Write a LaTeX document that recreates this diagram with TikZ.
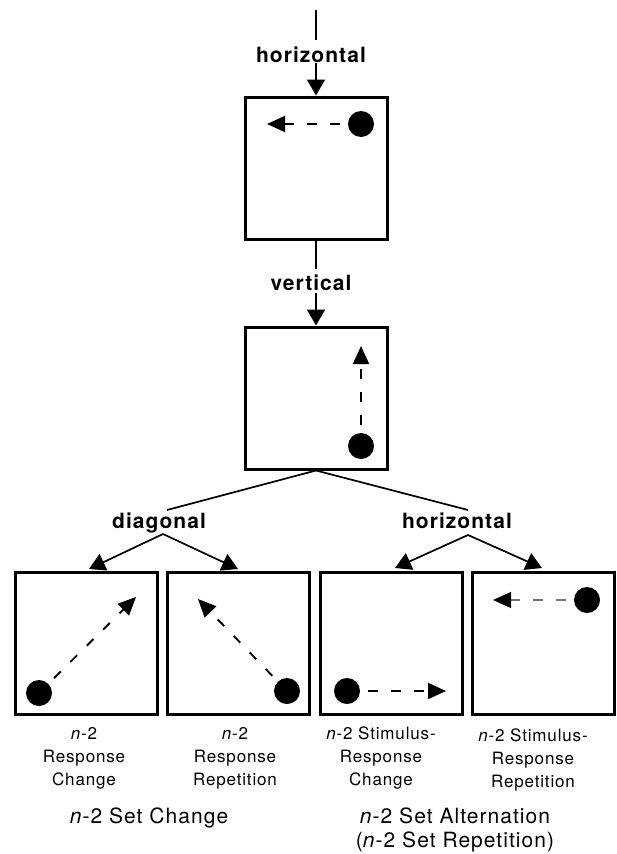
\documentclass[tikz,border=0pt]{standalone}
\usepackage{fontspec}
\setmainfont[LetterSpace=5]{TeX Gyre Heros}
\usetikzlibrary{arrows.meta}

\begin{document}
\begin{tikzpicture}[x=1pt,y=-1pt,
  panel/.style={draw,line width=3pt,minimum width=142pt,minimum height=142pt,inner sep=0pt},
  dot/.style={circle,fill,inner sep=0pt,minimum size=26pt},
  move/.style={line width=1.9pt,dash pattern=on 9.5pt off 13.5pt,dash phase=15pt,
               -{Triangle[length=18pt,width=16pt,color=black]}},
  conn/.style={line width=1.7pt,-{Triangle[length=16pt,width=18pt]}},
  plain/.style={line width=1.7pt},
  branch/.style={font=\fontsize{21}{24}\selectfont\bfseries,anchor=base,inner sep=0pt},
  boxcaption/.style={font=\fontsize{17}{23}\selectfont,anchor=base,inner sep=0pt,align=center},
  grouplabel/.style={font=\fontsize{21}{24}\selectfont,anchor=base,inner sep=0pt,align=center}]

\useasboundingbox (0,0) rectangle (617,854);

% panels
\node[panel] (p1) at (316,168) {};
\node[panel] (p2) at (316,398) {};
\node[panel] (q1) at (86,643.5) {};
\node[panel] (q2) at (238,643.5) {};
\node[panel] (q3) at (391,643.5) {};
\node[panel] (q4) at (543,643.5) {};

% dots and their movements
\node[dot] (d1) at (361,124) {};  \coordinate (t1) at (267,124);
\node[dot] (d2) at (361,446) {};  \coordinate (t2) at (361,346);
\node[dot] (e1) at (39,693) {};   \coordinate (u1) at (136,597);
\node[dot] (e2) at (287,691) {};  \coordinate (u2) at (198,599);
\node[dot] (e3) at (347,691) {};  \coordinate (u3) at (446,691);
\node[dot] (e4) at (587,600) {};  \coordinate (u4) at (493,600);
\draw[move] (d1) -- (t1);
\draw[move] (d2) -- (t2);
\draw[move] (e1) -- (u1);
\draw[move] (e2) -- (u2);
\draw[move] (e3) -- (u3);
\draw[move,line width=1.3pt,draw=black!55] (e4) -- (u4);

% top connector
\coordinate (a0) at (316,10);
\coordinate (a1) at (316,40);
\coordinate (a2) at (316,63);
\node[branch] (lh1) at (311,62) {horizontal};
\draw[plain] (a0) -- (a1);
\draw[conn] (a2) -- (p1.north);

% middle connector
\coordinate (b1) at (316,269);
\coordinate (b2) at (316,293);
\node[branch] (lv) at (311,290) {vertical};
\draw[plain] (p1.south) -- (b1);
\draw[conn] (b2) -- (p2.north);

% branching
\coordinate (dl) at (167,510);
\coordinate (hl) at (468,510);
\node[branch] (ld) at (159,528) {diagonal};
\node[branch] (lh2) at (457,528) {horizontal};
\draw[plain] (p2.south) -- (dl);
\draw[plain] (p2.south) -- (hl);
\coordinate (da) at (163,534);
\coordinate (ha) at (468,535);
\coordinate (v1) at (89,569);
\coordinate (v2) at (238,569);
\coordinate (v3) at (395,568);
\coordinate (v4) at (542,568);
\draw[conn] (da) -- (v1);
\draw[conn] (da) -- (v2);
\draw[conn] (ha) -- (v3);
\draw[conn] (ha) -- (v4);

% captions (anchored on the baseline of their last line)
\node[boxcaption] (c1) at (84,785) {\textit{n}-2\\Response\\Change};
\node[boxcaption] (c2) at (235,785) {\textit{n}-2\\Response\\Repetition};
\node[boxcaption] (c3) at (381,785) {\textit{n}-2 Stimulus-\\Response\\Change};
\node[boxcaption] (c4) at (533,787) {\textit{n}-2 Stimulus-\\Response\\Repetition};
\node[grouplabel] (g1) at (149,823) {\textit{n}-2 Set Change};
\node[grouplabel] (g2) at (455,847) {\textit{n}-2 Set Alternation\\(\textit{n}-2 Set Repetition)};
\end{tikzpicture}
\end{document}
